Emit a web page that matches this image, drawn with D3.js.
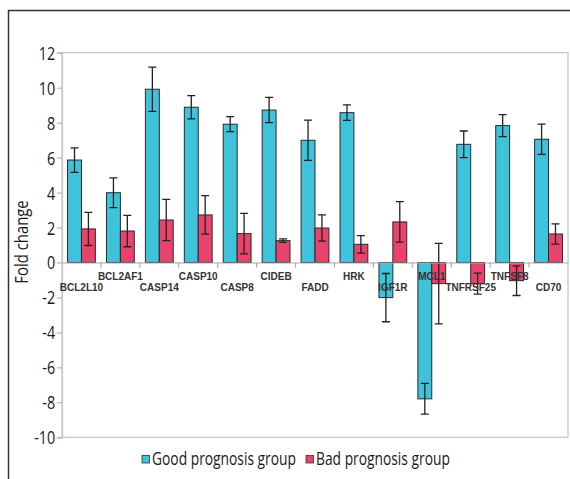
<!DOCTYPE html>
<html>
<head>
<meta charset="utf-8">
<script src="https://d3js.org/d3.v7.min.js"></script>
<title>Fold change</title>
<style>
  body { margin: 0; background: #fff; }
  .cond { font-family: "Open Sans", "Noto Sans", sans-serif; }
</style>
</head>
<body>
<svg id="chart" width="570" height="479"></svg>
<script>
const genes = ["BCL2L10", "BCL2AF1", "CASP14", "CASP10", "CASP8", "CIDEB", "FADD", "HRK",
               "IGF1R", "MCL1", "TNFRSF25", "TNFSF8", "CD70"];
const good = [5.86, 3.99, 9.91, 8.88, 7.91, 8.72, 6.99, 8.57, -2.01, -7.8, 6.76, 7.83, 7.05];
const goodErr = [0.70, 0.85, 1.27, 0.66, 0.43, 0.72, 1.15, 0.44, 1.38, 0.88, 0.76, 0.63, 0.87];
const bad = [1.92, 1.80, 2.43, 2.72, 1.65, 1.25, 1.97, 1.04, 2.32, -1.21, -1.21, -1.04, 1.63];
const badErr = [0.95, 0.90, 1.18, 1.10, 1.16, 0.10, 0.75, 0.50, 1.16, 2.3, 0.60, 0.85, 0.58];
const yTicks = [12, 10, 8, 6, 4, 2, 0, -2, -4, -6, -8, -10];
const groups = ["Good prognosis group", "Bad prognosis group"];
const colors = ["#3fc3da", "#e9436c"];

const svg = d3.select("#chart");
const margin = {top: 52.7, left: 62, right: 2, bottom: 41.7};
const W = 570, H = 479;

// outer frame (top + left only visible)
svg.append("path")
   .attr("d", "M8.5,479 L8.5,10.5 L570,10.5")
   .attr("fill", "none").attr("stroke", "#333").attr("stroke-width", 1.5);

const x = d3.scaleBand().domain(genes).range([margin.left, W - margin.right]);
const y = d3.scaleLinear().domain([-10, 12]).range([H - margin.bottom, margin.top]);
const inner = d3.scaleBand().domain(groups).range([0, x.bandwidth()]).paddingInner(0).paddingOuter(0.4);

// plot border
svg.append("rect")
   .attr("x", margin.left).attr("y", y(12))
   .attr("width", W - margin.right - margin.left).attr("height", y(-10) - y(12))
   .attr("fill", "none").attr("stroke", "#c4c4c4").attr("stroke-width", 1.2);

// y axis
const yAxis = svg.append("g")
   .attr("transform", `translate(${margin.left},0)`)
   .call(d3.axisLeft(y).tickValues(yTicks).tickSize(5).tickPadding(2).tickFormat(d => String(d)));
yAxis.select(".domain").attr("stroke", "#c4c4c4").attr("stroke-width", 1.2);
yAxis.selectAll(".tick line").attr("stroke", "#aaa");
yAxis.selectAll(".tick text")
   .attr("class", "cond").attr("font-size", 18).attr("fill", "#1a1a1a")
   .attr("x", -8.5).attr("dy", "0.36em")
   .attr("transform", "scale(0.8,1)");

svg.append("g")
   .attr("transform", `translate(28,${242}) rotate(-90) scale(0.85,1)`)
   .append("text")
   .attr("class", "cond")
   .attr("text-anchor", "middle")
   .attr("font-size", 17.5).attr("fill", "#1a1a1a")
   .text("Fold change");

// bars
const rows = genes.map((g, i) => ({g, vals: [
  {k: groups[0], v: good[i], e: goodErr[i]},
  {k: groups[1], v: bad[i], e: badErr[i]}
]}));

const gg = svg.append("g").selectAll("g.gene")
   .data(rows).join("g")
   .attr("class", "gene")
   .attr("transform", d => `translate(${x(d.g)},0)`);

gg.selectAll("rect")
   .data(d => d.vals).join("rect")
   .attr("x", d => inner(d.k))
   .attr("width", inner.bandwidth())
   .attr("y", d => y(Math.max(0, d.v)))
   .attr("height", d => Math.abs(y(d.v) - y(0)))
   .attr("fill", (d, i) => colors[i])
   .attr("stroke", "#2a2a2a").attr("stroke-width", 1);

// error bars
const cap = 4;
gg.selectAll("path.err")
   .data(d => d.vals).join("path")
   .attr("class", "err")
   .attr("d", d => {
     const cx = inner(d.k) + inner.bandwidth() / 2;
     const y1 = y(d.v + d.e), y2 = y(d.v - d.e);
     return `M${cx},${y1}V${y2}M${cx - cap},${y1}H${cx + cap}M${cx - cap},${y2}H${cx + cap}`;
   })
   .attr("fill", "none").attr("stroke", "#222").attr("stroke-width", 1.3);

// zero axis with category ticks
const xAxis = svg.append("g")
   .attr("transform", `translate(0,${y(0)})`)
   .call(d3.axisBottom(x).tickSize(0).tickFormat(""));
xAxis.select(".domain").attr("stroke", "#aaa").attr("stroke-width", 1.2);
xAxis.selectAll(".tick").remove();
xAxis.selectAll("line.cat")
   .data(genes.slice(1)).join("line")
   .attr("class", "cat")
   .attr("x1", d => x(d)).attr("x2", d => x(d))
   .attr("y1", 0).attr("y2", 5)
   .attr("stroke", "#aaa").attr("stroke-width", 1.2);

svg.append("g").selectAll("text")
   .data(genes).join("text")
   .attr("x", d => x(d) + x.bandwidth() / 2)
   .attr("y", (d, i) => y(0) + (i % 2 === 0 ? 28.5 : 17.5))
   .attr("text-anchor", "middle")
   .attr("font-family", "Liberation Sans, Arial, sans-serif")
   .attr("font-size", 10).attr("font-weight", "bold").attr("fill", "#333")
   .text(d => d);

// legend
const legendX = [142, 306];
const leg = svg.append("g").selectAll("g")
   .data(groups).join("g")
   .attr("transform", (d, i) => `translate(${legendX[i]},${459})`);
leg.append("rect")
   .attr("x", 0).attr("y", -3.5).attr("width", 7.5).attr("height", 7.5)
   .attr("fill", (d, i) => colors[i]).attr("stroke", "#333").attr("stroke-width", 0.8);
leg.append("g")
   .attr("transform", "translate(10,6) scale(0.79,1)")
   .append("text")
   .attr("class", "cond")
   .attr("font-size", 17.5).attr("fill", "#1a1a1a")
   .text(d => d);
</script>
</body>
</html>
